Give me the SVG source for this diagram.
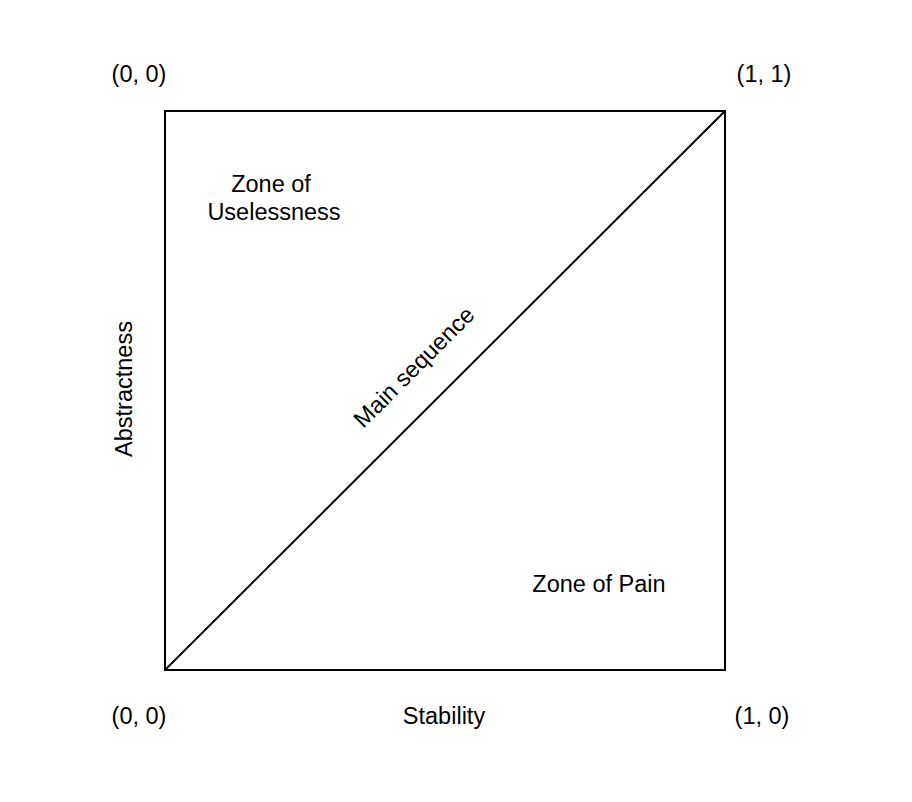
<svg xmlns="http://www.w3.org/2000/svg" width="912" height="802" viewBox="0 0 912 802">
<style>
text{font-family:"Liberation Sans",Arial,sans-serif;font-size:23.5px;fill:#000;text-anchor:middle}
.ln{stroke:#000;stroke-width:2;fill:none}
</style>
<rect width="912" height="802" fill="#fff"/>
<g id="frame"><rect class="ln" x="165" y="111" width="560" height="559"/></g>
<g id="connectors"><line class="ln" x1="165" y1="670" x2="725" y2="111"/></g>
<g id="labels">
<text x="139" y="82">(0, 0)</text>
<text x="764" y="82">(1, 1)</text>
<text x="139" y="724">(0, 0)</text>
<text x="762" y="724">(1, 0)</text>
<text x="444" y="724">Stability</text>
<text x="271" y="192">Zone of</text>
<text x="274" y="220">Uselessness</text>
<text x="599" y="592">Zone of Pain</text>
<text transform="translate(132,389) rotate(-90)" x="0" y="0">Abstractness</text>
<text transform="translate(414,367) rotate(-45)" x="0" y="8">Main sequence</text>
</g>
</svg>
